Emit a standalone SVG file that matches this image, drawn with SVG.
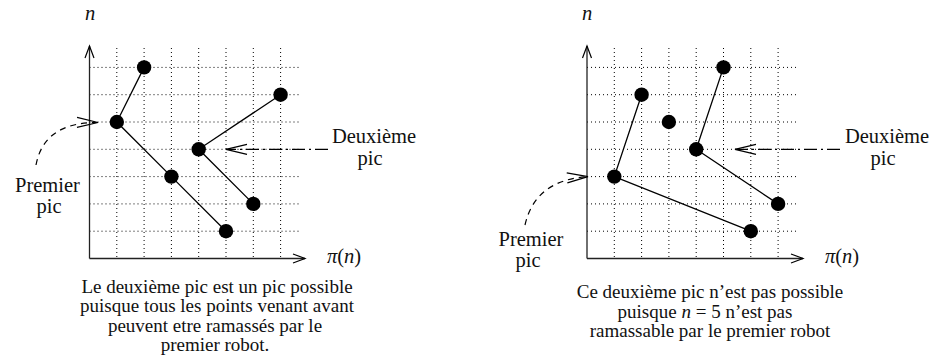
<svg xmlns="http://www.w3.org/2000/svg" width="935" height="360" viewBox="0 0 935 360" font-family="'Liberation Serif', 'Times New Roman', serif">
<defs>
<style>
.grid{stroke:#000;stroke-width:1;stroke-dasharray:1 3;fill:none}
.axis{stroke:#222;stroke-width:1.3;fill:none;marker-end:url(#ax)}
.edge{stroke:#000;stroke-width:1.3;fill:none}
.curve{stroke:#000;stroke-width:1.2;fill:none;stroke-dasharray:6 5;marker-end:url(#big)}
.dd{stroke:#000;stroke-width:1.2;fill:none;stroke-dasharray:13 4 2 4;marker-end:url(#big)}
.pt{fill:#000}
.lab{font-size:20.5px;fill:#111}
.cap{font-size:19px;text-anchor:middle;fill:#111}
.mid{text-anchor:middle}
.it{font-style:italic}
</style>
<marker id="ax" markerUnits="userSpaceOnUse" markerWidth="30" markerHeight="30" viewBox="-15 -15 30 30" refX="0" refY="0" orient="auto">
<path d="M-12,-4.5 L0,0 L-12,4.5" fill="none" stroke="#000" stroke-width="1.2"/>
</marker>
<marker id="big" markerUnits="userSpaceOnUse" markerWidth="50" markerHeight="30" viewBox="-25 -15 50 30" refX="0" refY="0" orient="auto">
<path d="M-21,-5 L0,0 L-21,5" fill="none" stroke="#000" stroke-width="1.2"/>
</marker>
</defs>

<g id="left-grid">
<path class="grid" d="M116.8,48V258.5M144.1,48V258.5M171.4,48V258.5M198.7,48V258.5M226,48V258.5M253.3,48V258.5M280.6,48V258.5
M89.5,231.2H300M89.5,203.9H300M89.5,176.6H300M89.5,149.3H300M89.5,122H300M89.5,94.7H300M89.5,67.4H300"/>
</g>
<g id="right-grid">
<path class="grid" d="M614.3,48V258.5M641.6,48V258.5M668.9,48V258.5M696.2,48V258.5M723.5,48V258.5M750.8,48V258.5M778.1,48V258.5
M587,231.2H797M587,203.9H797M587,176.6H797M587,149.3H797M587,122H797M587,94.7H797M587,67.4H797"/>
</g>

<g id="connectors">
<path class="axis" d="M89.5,258.5V46"/>
<path class="axis" d="M89.5,258.5H305"/>
<path class="axis" d="M587,258.5V46"/>
<path class="axis" d="M587,258.5H803"/>
<path class="edge" d="M144.1,67.4L116.8,122L171.4,176.6L226,231.2"/>
<path class="edge" d="M280.6,94.7L198.7,149.3L253.3,203.9"/>
<path class="edge" d="M641.6,94.7L614.3,176.6L750.8,231.2"/>
<path class="edge" d="M723.5,67.4L696.2,149.3L778.1,203.9"/>
<path class="curve" d="M36,165Q44,122 98,122.5"/>
<path class="curve" d="M525,225Q535,180 588,176.6"/>
<path class="dd" d="M328,149.3H226"/>
<path class="dd" d="M840,149.3H735"/>
</g>

<g id="left-points">
<g id="l1"><circle class="pt" cx="144.1" cy="67.4" r="7.2"/></g>
<g id="l2"><circle class="pt" cx="116.8" cy="122" r="7.2"/></g>
<g id="l3"><circle class="pt" cx="280.6" cy="94.7" r="7.2"/></g>
<g id="l4"><circle class="pt" cx="198.7" cy="149.3" r="7.2"/></g>
<g id="l5"><circle class="pt" cx="171.4" cy="176.6" r="7.2"/></g>
<g id="l6"><circle class="pt" cx="253.3" cy="203.9" r="7.2"/></g>
<g id="l7"><circle class="pt" cx="226" cy="231.2" r="7.2"/></g>
</g>
<g id="right-points">
<g id="r1"><circle class="pt" cx="723.5" cy="67.4" r="7.2"/></g>
<g id="r2"><circle class="pt" cx="641.6" cy="94.7" r="7.2"/></g>
<g id="r3"><circle class="pt" cx="668.9" cy="122" r="7.2"/></g>
<g id="r4"><circle class="pt" cx="696.2" cy="149.3" r="7.2"/></g>
<g id="r5"><circle class="pt" cx="614.3" cy="176.6" r="7.2"/></g>
<g id="r6"><circle class="pt" cx="778.1" cy="203.9" r="7.2"/></g>
<g id="r7"><circle class="pt" cx="750.8" cy="231.2" r="7.2"/></g>
</g>

<g id="left-labels">
<text class="lab it" x="85" y="20">n</text>
<text class="lab" x="327" y="263"><tspan class="it">π</tspan>(<tspan class="it">n</tspan>)</text>
<g id="l-premier"><text class="lab mid" x="47.5" y="191.5">Premier</text><text class="lab mid" x="49" y="213">pic</text></g>
<g id="l-deuxieme"><text class="lab mid" x="374" y="143">Deuxième</text><text class="lab mid" x="370" y="164.5">pic</text></g>
</g>
<g id="right-labels">
<text class="lab it" x="582" y="20">n</text>
<text class="lab" x="825" y="263"><tspan class="it">π</tspan>(<tspan class="it">n</tspan>)</text>
<g id="r-premier"><text class="lab mid" x="531" y="245.5">Premier</text><text class="lab mid" x="528" y="267">pic</text></g>
<g id="r-deuxieme"><text class="lab mid" x="887" y="143">Deuxième</text><text class="lab mid" x="883" y="164.5">pic</text></g>
</g>

<g id="left-caption">
<text class="cap" x="217" y="292.5">Le deuxième pic est un pic possible</text>
<text class="cap" x="217" y="312">puisque tous les points venant avant</text>
<text class="cap" x="215" y="331.5">peuvent etre ramassés par le</text>
<text class="cap" x="215" y="351">premier robot.</text>
</g>
<g id="right-caption">
<text class="cap" x="710" y="298">Ce deuxième pic n’est pas possible</text>
<text class="cap" x="705" y="317.5">puisque <tspan class="it">n</tspan> = 5 n’est pas</text>
<text class="cap" x="710" y="337">ramassable par le premier robot</text>
</g>
</svg>
